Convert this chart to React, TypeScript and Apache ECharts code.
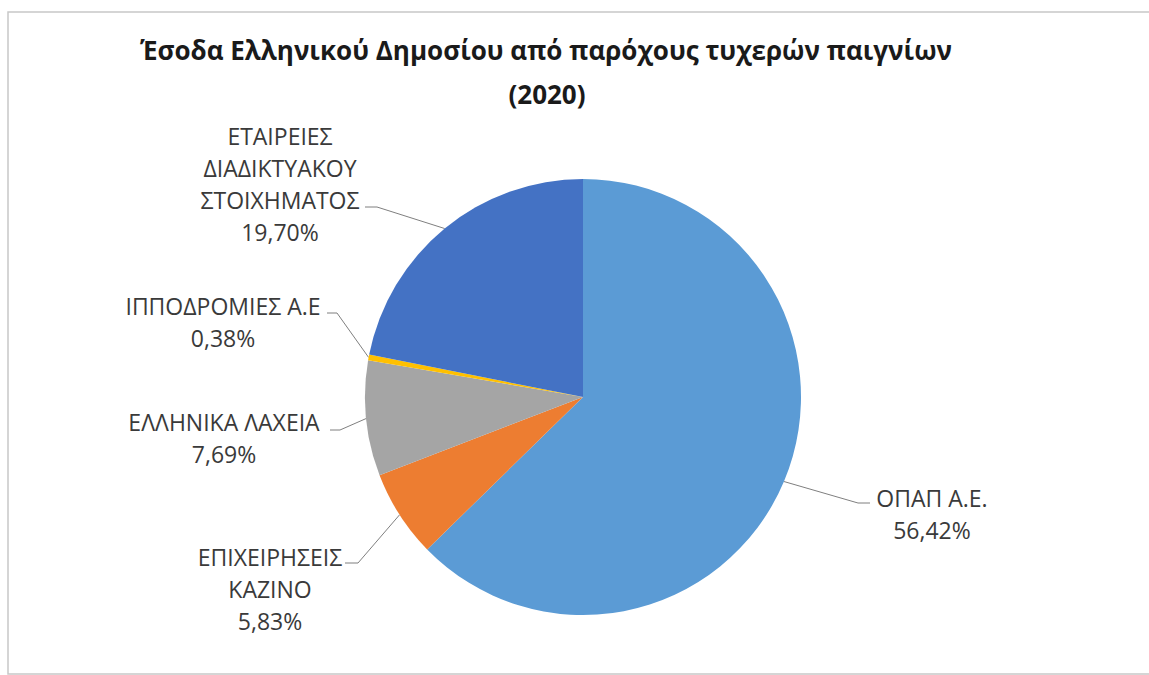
import React, { useEffect, useRef } from "react";
import * as echarts from "echarts";

const TITLE_LINE_1 = "Έσοδα Ελληνικού Δημοσίου από παρόχους τυχερών παιγνίων";
const TITLE_LINE_2 = "(2020)";

const CATEGORIES = [
  "ΟΠΑΠ Α.Ε.",
  "ΕΠΙΧΕΙΡΗΣΕΙΣ\nΚΑΖΙΝΟ",
  "ΕΛΛΗΝΙΚΑ ΛΑΧΕΙΑ",
  "ΙΠΠΟΔΡΟΜΙΕΣ Α.Ε",
  "ΕΤΑΙΡΕΙΕΣ\nΔΙΑΔΙΚΤΥΑΚΟΥ\nΣΤΟΙΧΗΜΑΤΟΣ",
];
const VALUES = [56.42, 5.83, 7.69, 0.38, 19.7];
const COLORS = ["#5B9BD5", "#ED7D31", "#A5A5A5", "#FFC000", "#4472C4"];

// label placement (layout only)
const LABEL_LAYOUT = [
  { cx: 932, top: 481.5, elbow: [858, 503], end: [870, 503] },
  { cx: 270, top: 540.5, elbow: [358, 563], end: [345, 563] },
  { cx: 224, top: 405.5, elbow: [340, 430], end: [330, 430] },
  { cx: 223, top: 289.5, elbow: [337, 313], end: [327, 313] },
  { cx: 280, top: 119.5, elbow: [377, 207], end: [365, 207] },
];

const PIE_CENTER = [583, 397];
const PIE_RADIUS = 218;

const fmt = (v: number) => v.toFixed(2).replace(".", ",") + "%";

export default function App() {
  const ref = useRef<HTMLDivElement>(null);
  useEffect(() => {
    if (!ref.current) return;
    const chart = echarts.init(ref.current, undefined, { renderer: "svg" });
    const total = VALUES.reduce((a, b) => a + b, 0);
    const edgePoint = (i: number) => {
      let before = 0;
      for (let k = 0; k < i; k++) before += VALUES[k];
      const mid = ((before + VALUES[i] / 2) / total) * Math.PI * 2;
      return [
        PIE_CENTER[0] + PIE_RADIUS * Math.sin(mid),
        PIE_CENTER[1] - PIE_RADIUS * Math.cos(mid),
      ];
    };
    chart.setOption({
      animation: false,
      backgroundColor: "#ffffff",
      graphic: [
        {
          type: "rect",
          shape: { x: 8, y: 12, width: 1200, height: 662 },
          style: { fill: "none", stroke: "#c8c8c8", lineWidth: 1.5 },
          silent: true,
        },
        {
          type: "text",
          x: 546,
          y: 50,
          style: {
            text: TITLE_LINE_1,
            textAlign: "center",
            textVerticalAlign: "middle",
            font: "bold 26px 'Open Sans'",
            fill: "#1a1a1a",
          },
        },
        {
          type: "text",
          x: 547,
          y: 94,
          style: {
            text: TITLE_LINE_2,
            textAlign: "center",
            textVerticalAlign: "middle",
            font: "bold 26px 'Open Sans'",
            fill: "#1a1a1a",
          },
        },
      ],
      series: [
        {
          type: "pie",
          center: PIE_CENTER,
          radius: PIE_RADIUS,
          startAngle: 90,
          clockwise: true,
          avoidLabelOverlap: false,
          data: CATEGORIES.map((name, i) => ({
            name,
            value: VALUES[i],
            itemStyle: { color: COLORS[i] },
          })),
          itemStyle: { borderWidth: 0 },
          label: {
            show: true,
            position: "outside",
            formatter: (p: any) => `${p.name}\n${fmt(p.value)}`,
            fontFamily: "'Open Sans'",
            fontSize: 23,
            lineHeight: 32,
            color: "#3a3a3a",
            align: "center",
          },
          labelLine: {
            show: true,
            length: 20,
            length2: 10,
            lineStyle: { color: "#7f7f7f", width: 1 },
          },
          labelLayout: (params: any) => {
            const i = params.dataIndex;
            const L = LABEL_LAYOUT[i];
            const start =
              params.labelLinePoints && params.labelLinePoints[0]
                ? params.labelLinePoints[0]
                : edgePoint(i);
            return {
              x: L.cx,
              y: L.top,
              align: "center",
              verticalAlign: "top",
              labelLinePoints: [start, L.elbow, L.end],
            };
          },
          emphasis: { disabled: true },
        },
      ],
    });
    return () => chart.dispose();
  }, []);
  return (
    <div
      ref={ref}
      style={{
        position: "fixed",
        left: 0,
        top: 0,
        width: 1149,
        height: 675,
        background: "#fff",
      }}
    />
  );
}
